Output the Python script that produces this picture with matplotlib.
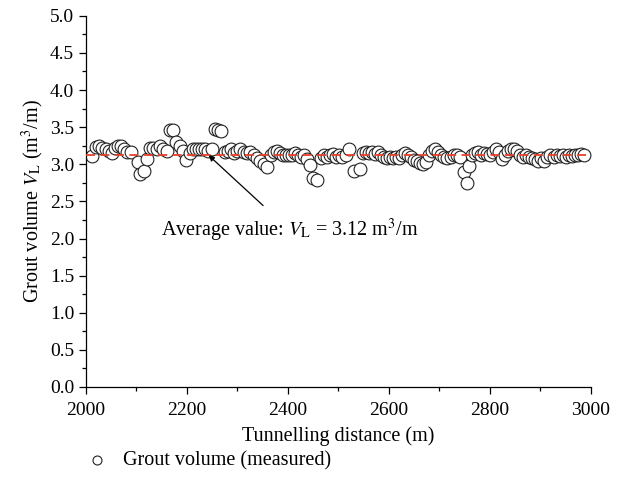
import numpy as np
import matplotlib.pyplot as plt
from matplotlib.ticker import MultipleLocator, FormatStrFormatter

plt.rcParams['font.family'] = ['Liberation Serif', 'DejaVu Serif']
plt.rcParams['mathtext.fontset'] = 'stix'

# tunnelling distance (m) and measured grout volume (m3/m)
distance = [2012, 2020, 2026, 2032, 2040, 2046, 2052, 2058, 2064, 2070,
            2076, 2082, 2090, 2102, 2106, 2114, 2120, 2127, 2133, 2140,
            2146, 2152, 2160, 2166, 2173, 2178, 2186, 2192, 2198, 2205,
            2212, 2218, 2224, 2230, 2236, 2242, 2250, 2256, 2262, 2268,
            2276, 2282, 2288, 2294, 2300, 2306, 2312, 2318, 2324, 2332,
            2338, 2344, 2352, 2358, 2366, 2372, 2378, 2384, 2390, 2396,
            2402, 2408, 2414, 2420, 2426, 2432, 2438, 2444, 2450, 2458,
            2466, 2472, 2478, 2484, 2490, 2496, 2502, 2508, 2514, 2521,
            2530, 2542, 2548, 2554, 2560, 2566, 2572, 2578, 2584, 2590,
            2596, 2602, 2608, 2614, 2620, 2626, 2632, 2638, 2644, 2650,
            2656, 2662, 2668, 2674, 2680, 2686, 2692, 2698, 2704, 2710,
            2716, 2722, 2728, 2734, 2740, 2748, 2754, 2758, 2764, 2770,
            2776, 2782, 2788, 2794, 2800, 2806, 2812, 2818, 2824, 2830,
            2836, 2842, 2848, 2854, 2860, 2866, 2872, 2878, 2884, 2890,
            2896, 2902, 2908, 2914, 2920, 2926, 2932, 2938, 2944, 2950,
            2956, 2962, 2968, 2974, 2980, 2986]
volume = [3.11, 3.23, 3.25, 3.22, 3.20, 3.18, 3.15, 3.22, 3.24, 3.25,
          3.20, 3.17, 3.17, 3.03, 2.87, 2.91, 3.07, 3.22, 3.22, 3.20,
          3.24, 3.20, 3.18, 3.46, 3.46, 3.30, 3.25, 3.18, 3.06, 3.15,
          3.20, 3.20, 3.20, 3.20, 3.20, 3.18, 3.20, 3.47, 3.46, 3.45,
          3.16, 3.18, 3.20, 3.15, 3.18, 3.20, 3.17, 3.15, 3.17, 3.12,
          3.08, 3.05, 3.00, 2.97, 3.12, 3.17, 3.18, 3.15, 3.13, 3.12,
          3.12, 3.13, 3.15, 3.12, 3.10, 3.12, 3.07, 2.99, 2.81, 2.79,
          3.08, 3.12, 3.10, 3.12, 3.14, 3.10, 3.12, 3.10, 3.13, 3.20,
          2.91, 2.93, 3.15, 3.17, 3.15, 3.17, 3.14, 3.16, 3.13, 3.10,
          3.08, 3.10, 3.08, 3.10, 3.08, 3.12, 3.15, 3.13, 3.10, 3.06,
          3.05, 3.02, 3.00, 3.03, 3.12, 3.18, 3.20, 3.17, 3.12, 3.10,
          3.08, 3.10, 3.12, 3.13, 3.10, 2.90, 2.75, 2.98, 3.12, 3.15,
          3.16, 3.13, 3.15, 3.14, 3.12, 3.17, 3.20, 3.17, 3.07, 3.13,
          3.18, 3.21, 3.20, 3.18, 3.13, 3.10, 3.12, 3.10, 3.08, 3.07,
          3.05, 3.08, 3.05, 3.10, 3.12, 3.10, 3.12, 3.11, 3.13, 3.10,
          3.12, 3.11, 3.13, 3.12, 3.14, 3.13]
avg_value = 3.12
avg_span = [2000, 2990]

fig = plt.figure(figsize=(6.21, 4.94), dpi=100)
ax = fig.add_axes([0.1385, 0.2166, 0.813, 0.7514])

fs = 14.5
pts = ax.scatter(distance, volume, s=85, facecolor='white', edgecolor='#222222',
                 linewidth=0.8, zorder=2, label='Grout volume (measured)')
ax.plot(avg_span, [avg_value, avg_value], color='#e8402a', lw=1.3,
        dashes=(5, 3), zorder=3)

ax.annotate(r'Average value: $V_{\mathrm{L}}$ = 3.12 m$^3$/m',
            xy=(2243, avg_value), xytext=(2404, 2.11),
            ha='center', va='center', fontsize=fs,
            arrowprops=dict(arrowstyle='-|>', color='black', lw=0.9,
                            shrinkA=9, shrinkB=0, mutation_scale=8))

ax.set_xlim(2000, 3000)
ax.set_ylim(0, 5)
ax.xaxis.set_major_locator(MultipleLocator(200))
ax.xaxis.set_minor_locator(MultipleLocator(100))
ax.yaxis.set_major_locator(MultipleLocator(0.5))
ax.yaxis.set_minor_locator(MultipleLocator(0.25))
ax.yaxis.set_major_formatter(FormatStrFormatter('%.1f'))
ax.spines['top'].set_visible(False)
ax.spines['right'].set_visible(False)
for s in ['left', 'bottom']:
    ax.spines[s].set_linewidth(0.9)
ax.tick_params(which='major', direction='out', length=5, width=0.9,
               labelsize=14, colors='black')
ax.tick_params(axis='x', which='major', pad=6)
ax.tick_params(which='minor', direction='out', length=3, width=0.9)
ax.set_xlabel('Tunnelling distance (m)', fontsize=fs, labelpad=5)
ax.set_ylabel(r'Grout volume $V_{\mathrm{L}}$ (m$^3$/m)', fontsize=fs,
              labelpad=3)

fig.legend(handles=[pts], loc='center left', bbox_to_anchor=(0.095, 0.068),
           frameon=False, fontsize=fs, handletextpad=0.3, markerscale=0.7)

fig.savefig('out.png', dpi=100)
